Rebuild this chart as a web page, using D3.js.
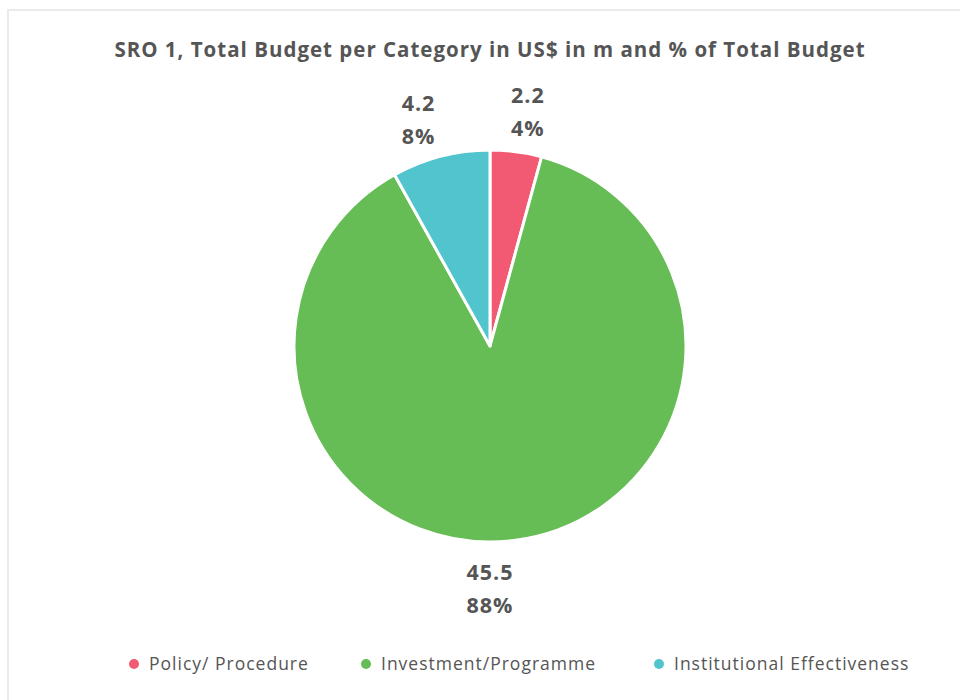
<!DOCTYPE html>
<html>
<head>
<meta charset="utf-8">
<script src="https://cdn.jsdelivr.net/npm/d3@7"></script>
<style>
  body { margin: 0; background: #fff; }
  svg { display: block; font-family: "Open Sans", Lato, sans-serif; }
</style>
</head>
<body>
<div id="chart"></div>
<script>
var categories = ["Policy/ Procedure", "Investment/Programme", "Institutional Effectiveness"];
var budgets = [2.2, 45.5, 4.2];
var percents = ["4%", "88%", "8%"];
var colours = ["#f25a73", "#66bd55", "#52c4ce"];

var width = 960, height = 700;
var cx = 490, cy = 346, radius = 196;

var svg = d3.select("#chart").append("svg")
    .attr("width", width)
    .attr("height", height);

// light frame, runs off the right and bottom edge
svg.append("rect")
    .attr("x", 8).attr("y", 10)
    .attr("width", 970).attr("height", 710)
    .style("fill", "none")
    .style("stroke", "#ebebeb")
    .style("stroke-width", 2);

svg.append("text")
    .attr("x", cx)
    .attr("y", 57)
    .attr("text-anchor", "middle")
    .style("font-weight", "bold")
    .style("font-size", "20.5px")
    .style("letter-spacing", "1px")
    .style("fill", "#555")
    .text("SRO 1, Total Budget per Category in US$ in m and % of Total Budget");

var data = categories.map(function (c, i) {
    return { name: c, value: budgets[i], pct: percents[i], colour: colours[i] };
});

var pie = d3.pie().sort(null).value(function (d) { return d.value; });
var arc = d3.arc().innerRadius(0).outerRadius(radius);

var g = svg.append("g").attr("transform", "translate(" + cx + "," + cy + ")");
var arcs = pie(data);

g.selectAll("path")
    .data(arcs)
    .enter()
    .append("path")
    .attr("d", arc)
    .style("fill", function (d) { return d.data.colour; })
    .style("stroke", "#fff")
    .style("stroke-width", 3)
    .style("stroke-linejoin", "round");

var labels = g.selectAll(".label")
    .data(arcs)
    .enter()
    .append("g")
    .attr("class", "label")
    .attr("transform", function (d) {
        // spread the small top labels a little away from 12 o'clock
        var mid = (d.startAngle + d.endAngle) / 2;
        if (mid > Math.PI) mid = mid - 2 * Math.PI;
        mid = mid * 1.2;
        var p = [238 * Math.sin(mid), -238 * Math.cos(mid)];
        // a slice that covers the bottom gets its label straight below
        if (d.startAngle < Math.PI && d.endAngle > Math.PI) p = [0, 242];
        return "translate(" + p[0] + "," + p[1] + ")";
    });

labels.append("text")
    .attr("y", -8)
    .attr("text-anchor", "middle")
    .style("font-weight", "bold")
    .style("font-size", "21.5px")
    .style("letter-spacing", "1px")
    .style("fill", "#555")
    .text(function (d) { return d.data.value; });

labels.append("text")
    .attr("y", 25)
    .attr("text-anchor", "middle")
    .style("font-weight", "bold")
    .style("font-size", "21.5px")
    .style("letter-spacing", "1px")
    .style("fill", "#555")
    .text(function (d) { return d.data.pct; });

// legend
var legendX = [134, 366, 659];
var legend = svg.selectAll(".legend")
    .data(data)
    .enter()
    .append("g")
    .attr("class", "legend")
    .attr("transform", function (d, i) { return "translate(" + legendX[i] + ",664)"; });

legend.append("circle")
    .attr("r", 5)
    .style("fill", function (d) { return d.colour; });

legend.append("text")
    .attr("x", 15)
    .attr("y", 6)
    .style("font-size", "17.5px")
    .style("letter-spacing", "1px")
    .style("fill", "#555")
    .text(function (d) { return d.name; });
</script>
</body>
</html>
